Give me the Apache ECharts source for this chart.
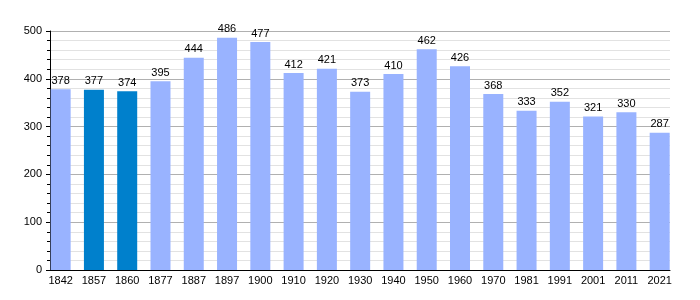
<!DOCTYPE html>
<html><head><meta charset="utf-8">
<script src="https://cdn.jsdelivr.net/npm/echarts@6/dist/echarts.min.js"></script>
<style>html,body{margin:0;padding:0;background:#fff}#c{width:700px;height:300px}</style>
</head><body><div id="c"></div>
<script>
const categories = ['1842','1857','1860','1877','1887','1897','1900','1910','1920','1930','1940','1950','1960','1970','1981','1991','2001','2011','2021'];
const values = [378,377,374,395,444,486,477,412,421,373,410,462,426,368,333,352,321,330,287];
const highlighted = ['1857','1860'];
const yTicks = [0,100,200,300,400,500];

const idx = categories.map((c,i)=>i);
const chart = echarts.init(document.getElementById('c'), null, {renderer:'canvas'});
chart.setOption({
  animation:false,
  grid:{left:50,right:30,top:31,bottom:30},
  xAxis:{type:'value',min:-0.32,max:categories.length-1+0.31,
    splitLine:{show:false},
    axisLine:{show:true,onZero:false,lineStyle:{color:'#000',width:1}},
    axisTick:{show:false},
    axisLabel:{customValues:idx,formatter:v=>categories[Math.round(v)],color:'#000',fontFamily:'Liberation Sans, Arial',fontSize:11,margin:5}},
  yAxis:{type:'value',min:yTicks[0],max:yTicks[yTicks.length-1],interval:100,
    axisLine:{show:true,onZero:false,lineStyle:{color:'#000',width:1}},
    axisTick:{show:true,length:4,lineStyle:{color:'#000'}},
    minorTick:{show:true,splitNumber:5,length:3,lineStyle:{color:'#000'}},
    splitLine:{lineStyle:{color:'#b0b0b0',width:1}},
    minorSplitLine:{show:true,lineStyle:{color:'#e2e2e2',width:1}},
    axisLabel:{color:'#000',fontFamily:'Liberation Sans, Arial',fontSize:11,margin:8}},
  series:[{type:'bar',barWidth:20,
    data:values.map((v,i)=>({value:[i,v],itemStyle:{color:highlighted.includes(categories[i])?'#0080CC':'#99B3FF'}})),
    label:{show:true,position:'top',distance:3,color:'#000',fontFamily:'Liberation Sans, Arial',fontSize:11,formatter:p=>p.value[1]}}]
});
</script></body></html>
